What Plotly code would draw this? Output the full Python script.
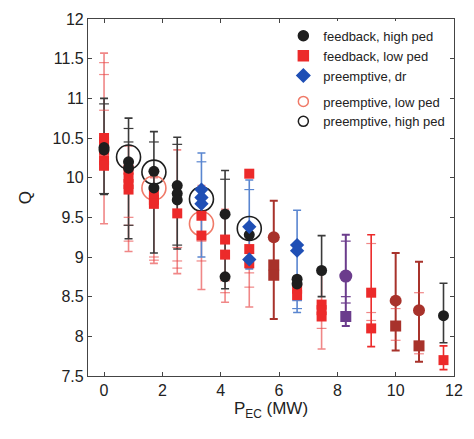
import plotly.graph_objects as go

FONT = "Liberation Sans, Arial, Helvetica, sans-serif"

# ---- colours
BLACK = "#1e1e1e"
RED = "#ec2a2a"
BLUE = "#1f4fb5"
SALMON = "#f07a68"
DARKRED = "#a8322b"
PURPLE = "#6b3c8c"
PALERED = "rgba(232,70,70,0.65)"
GRAYBAR = "#3a3a3a"
PALEBLUE = "#5a86d0"

# ---- marker data
fb_high_x = [0, 0, 0.84, 0.84, 1.71, 1.71, 2.51, 2.51, 2.51, 4.15, 4.15, 4.98, 6.62, 6.62, 7.46, 11.64]
fb_high_y = [10.38, 10.35, 10.2, 10.12, 10.08, 9.87, 9.9, 9.8, 9.72, 9.54, 8.75, 9.28, 8.72, 8.66, 8.83, 8.26]

fb_low_x = [0, 0, 0, 0, 0, 0.84, 0.84, 0.84, 0.84, 1.71, 1.71, 1.71, 2.51, 3.34, 3.34,
            4.15, 4.15, 4.98, 4.98, 4.98, 6.62, 6.62, 7.46, 7.46, 7.46, 9.16, 9.16, 11.64]
fb_low_y = [10.5, 10.45, 10.35, 10.22, 10.15, 10.1, 10.0, 9.92, 9.85, 9.8, 9.72, 9.67, 9.55, 9.52, 9.27,
            9.22, 9.03, 10.05, 9.1, 8.92, 8.6, 8.52, 8.4, 8.33, 8.25, 8.55, 8.1, 7.7]

pre_dr_x = [3.34, 3.34, 3.34, 4.98, 4.98, 6.62, 6.62]
pre_dr_y = [9.85, 9.75, 9.67, 9.38, 8.97, 9.15, 9.08]

pre_low_x = [1.71, 3.34]
pre_low_y = [9.87, 9.42]

pre_high_x = [0.84, 1.71, 3.34, 4.98]
pre_high_y = [10.26, 10.07, 9.73, 9.36]

dkred_circ_x = [5.82, 10.0, 10.8]
dkred_circ_y = [9.25, 8.45, 8.33]
dkred_sq_x = [5.82, 5.82, 10.0, 10.8]
dkred_sq_y = [8.9, 8.77, 8.13, 7.88]

purple_circ_x = [8.29]
purple_circ_y = [8.76]
purple_sq_x = [8.29]
purple_sq_y = [8.25]

# ---- error-bar ranges (x, low, high)
bar_black_x = [0, 0.84, 1.71, 2.51, 4.15, 7.46, 11.64]
bar_black_lo = [9.79, 9.23, 9.05, 9.1, 8.6, 8.5, 7.92]
bar_black_hi = [11.0, 10.75, 10.58, 10.51, 10.09, 9.27, 8.67]

bar_red_x = [0, 0.84, 1.71, 2.51, 3.34, 4.15, 4.98, 7.46]
bar_red_lo = [9.42, 9.07, 8.92, 8.79, 8.59, 8.43, 8.37, 7.84]
bar_red_hi = [11.57, 10.4, 10.0, 10.35, 9.9, 9.6, 9.4, 8.85]

bar_bred_x = [9.16, 11.64]
bar_bred_lo = [7.87, 7.58]
bar_bred_hi = [9.28, 7.88]

bar_blue_x = [3.34, 4.98, 6.62]
bar_blue_lo = [9.0, 8.85, 8.3]
bar_blue_hi = [10.31, 9.97, 9.59]

bar_dkred_x = [5.82, 10.0, 10.8]
bar_dkred_lo = [8.22, 7.82, 7.68]
bar_dkred_hi = [9.71, 9.05, 8.94]

bar_purple_x = [8.29]
bar_purple_lo = [8.13]
bar_purple_hi = [9.28]

# ---- small tick marks along the bars
tk_black_x = [0, 0, 0.84, 0.84, 0.84, 1.71, 2.51, 2.51, 4.15]
tk_black_y = [10.93, 9.8, 10.62, 10.45, 9.4, 10.45, 10.42, 9.15, 9.98]
tk_red_x = [0, 0, 0, 0.84, 0.84, 0.84, 1.71, 1.71, 2.51, 2.51, 2.51, 3.34, 3.34, 4.15, 4.15,
            4.98, 4.98, 7.46, 9.16, 9.16, 9.16, 10.0, 10.0, 10.8, 10.8]
tk_red_y = [11.45, 11.3, 10.85, 9.5, 9.4, 9.2, 9.0, 8.96, 9.12, 8.95, 8.86, 9.2, 8.95, 8.7, 8.55,
            8.8, 8.62, 8.1, 9.17, 8.3, 8.2, 8.35, 7.95, 8.55, 7.78]
tk_blue_x = [3.34, 4.98, 6.62, 6.62]
tk_blue_y = [10.2, 9.85, 8.45, 8.35]
tk_purple_x = [8.29, 8.29, 8.29]
tk_purple_y = [9.2, 8.5, 8.42]

fig = go.Figure()


def add_bars(xs, lo, hi, color, width=1.6):
    mid = [(a + b) / 2 for a, b in zip(lo, hi)]
    fig.add_trace(go.Scatter(
        x=xs, y=mid, mode="markers", showlegend=False, hoverinfo="skip",
        marker=dict(size=1, color="rgba(0,0,0,0)"),
        error_y=dict(type="data", symmetric=False,
                     array=[h - m for h, m in zip(hi, mid)],
                     arrayminus=[m - l for m, l in zip(mid, lo)],
                     color=color, thickness=width, width=4)))


def add_ticks(xs, ys, color):
    fig.add_trace(go.Scatter(
        x=xs, y=ys, mode="markers", showlegend=False, hoverinfo="skip",
        marker=dict(symbol="line-ew", size=7, line=dict(color=color, width=1.2))))


add_bars(bar_red_x, bar_red_lo, bar_red_hi, PALERED)
add_bars(bar_black_x, bar_black_lo, bar_black_hi, GRAYBAR)
add_bars(bar_bred_x, bar_bred_lo, bar_bred_hi, RED)
add_bars(bar_blue_x, bar_blue_lo, bar_blue_hi, PALEBLUE)
add_bars(bar_dkred_x, bar_dkred_lo, bar_dkred_hi, DARKRED, 2)
add_bars(bar_purple_x, bar_purple_lo, bar_purple_hi, PURPLE, 2)

add_ticks(tk_red_x, tk_red_y, PALERED)
add_ticks(tk_black_x, tk_black_y, GRAYBAR)
add_ticks(tk_blue_x, tk_blue_y, PALEBLUE)
add_ticks(tk_purple_x, tk_purple_y, PURPLE)


def add_pts(xs, ys, symbol, size, color, open_=False, lw=1.6):
    if open_:
        m = dict(symbol=symbol, size=size, color="rgba(0,0,0,0)", line=dict(color=color, width=lw))
    else:
        m = dict(symbol=symbol, size=size, color=color, line=dict(width=0))
    fig.add_trace(go.Scatter(x=xs, y=ys, mode="markers", showlegend=False,
                             hoverinfo="x+y", marker=m))


add_pts(pre_high_x, pre_high_y, "circle", 24, BLACK, open_=True)
add_pts(pre_low_x, pre_low_y, "circle", 24, SALMON, open_=True)
add_pts(fb_low_x, fb_low_y, "square", 10, RED)
add_pts(fb_high_x, fb_high_y, "circle", 11, BLACK)
add_pts(pre_dr_x, pre_dr_y, "diamond", 11, BLUE)
add_pts(dkred_circ_x, dkred_circ_y, "circle", 12, DARKRED)
add_pts(dkred_sq_x, dkred_sq_y, "square", 11, DARKRED)
add_pts(purple_circ_x, purple_circ_y, "circle", 13, PURPLE)
add_pts(purple_sq_x, purple_sq_y, "square", 11, PURPLE)

# ---- legend proxies
legend_names = ["feedback, high ped", "feedback, low ped", "preemptive, dr",
                "preemptive, low ped", "preemptive, high ped"]
legend_syms = ["circle", "square", "diamond", "circle-open", "circle-open"]
legend_cols = [BLACK, RED, BLUE, SALMON, BLACK]
legend_groups = ["a", "a", "a", "b", "b"]
for nm, sy, co, gr in zip(legend_names, legend_syms, legend_cols, legend_groups):
    fig.add_trace(go.Scatter(x=[None], y=[None], mode="markers", name=nm, legendgroup=gr,
                             marker=dict(symbol=sy, size=10, color=co, line=dict(color=co, width=1.5))))

axis_common = dict(showline=True, linecolor="#444", linewidth=1.2, mirror="ticks",
                   ticks="inside", ticklen=4, tickcolor="#444", showgrid=False, zeroline=False,
                   tickfont=dict(family=FONT, size=16, color="#222"))

fig.update_layout(
    width=474, height=439,
    margin=dict(l=88, r=11, t=12, b=63),
    paper_bgcolor="white", plot_bgcolor="white",
    font=dict(family=FONT, color="#222"),
    xaxis=dict(range=[-0.55, 12.0], tickvals=[0, 2, 4, 6, 8, 10, 12],
               title=dict(text="P<sub>EC</sub> (MW)", font=dict(family=FONT, size=17), standoff=2),
               **axis_common),
    yaxis=dict(range=[7.5, 12], tickvals=[7.5, 8, 8.5, 9, 9.5, 10, 10.5, 11, 11.5, 12],
               ticktext=["7.5", "8", "8.5", "9", "9.5", "10", "10.5", "11", "11.5", "12"],
               title=dict(text="Q", font=dict(family=FONT, size=17), standoff=16),
               **axis_common),
    legend=dict(x=0.99, y=0.995, xanchor="right", yanchor="top", bgcolor="white",
                font=dict(family=FONT, size=13, color="#222"), tracegroupgap=6,
                itemsizing="trace"),
)

fig.write_html("out.html")
